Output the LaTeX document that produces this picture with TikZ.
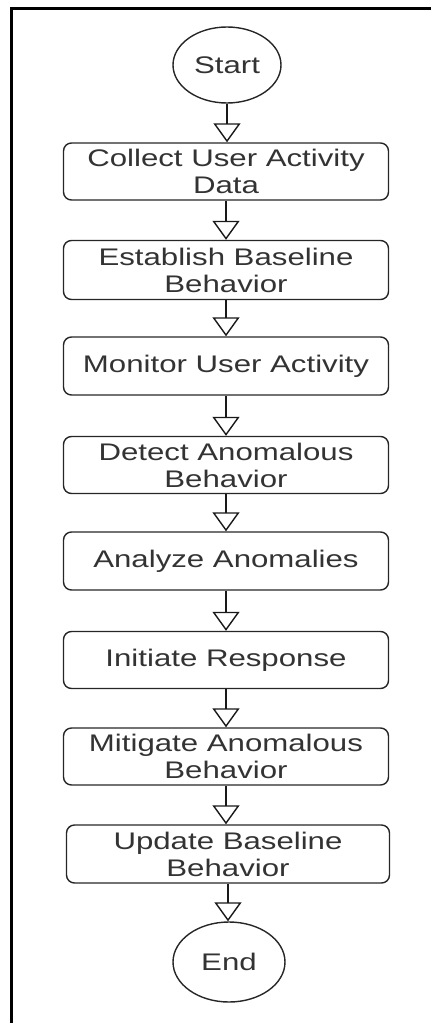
\documentclass[tikz,border=0pt]{standalone}
\usepackage{fontspec}
\setmainfont{Liberation Sans}[FakeStretch=1.3]
\usetikzlibrary{shapes.geometric,arrows.meta}
\definecolor{txt}{HTML}{333333}
\begin{document}
\begin{tikzpicture}[x=1pt,y=-1pt,
  stepbox/.style={draw=black!85, line width=1.4pt, rounded corners=8pt,
    minimum width=325pt, minimum height=57pt, inner sep=0pt, align=center,
    font=\fontsize{24}{27}\selectfont, text=txt},
  term/.style={ellipse, draw=black!85, line width=1.4pt, minimum width=108pt,
    minimum height=76pt, inner sep=0pt, font=\fontsize{24}{27}\selectfont, text=txt},
  flow/.style={draw=black!90, line width=1.6pt,
    -{Triangle[fill=white, width=27pt, length=19pt, line width=1.4pt]}},
  frame/.style={draw=black, line width=3pt}]
\useasboundingbox (0,0) rectangle (431,1023);
\draw[frame] (11.5,1030) -- (11.5,8) -- (440,8);

\node[term] (start) at (227,65) {Start};
\node[stepbox] (b1) at (226,171.5) {Collect User Activity\\Data};
\node[stepbox, minimum height=59pt] (b2) at (226,270) {Establish Baseline\\Behavior};
\node[stepbox, minimum height=58pt] (b3) at (226,366) {Monitor User Activity};
\node[stepbox] (b4) at (226,465) {Detect Anomalous\\Behavior};
\node[stepbox, minimum height=58pt] (b5) at (226,561) {Analyze Anomalies};
\node[stepbox] (b6) at (226,660) {Initiate Response};
\node[stepbox] (b7) at (226,756.5) {Mitigate Anomalous\\Behavior};
\node[stepbox, minimum width=323pt, minimum height=58pt] (b8) at (228,854) {Update Baseline\\Behavior};
\node[term, minimum width=112pt, minimum height=80pt] (end) at (229,962) {End};

\draw[flow] (start.south) -- (start.south |- b1.north);
\draw[flow] (b1.south) -- (b1.south |- b2.north);
\draw[flow] (b2.south) -- (b2.south |- b3.north);
\draw[flow] (b3.south) -- (b3.south |- b4.north);
\draw[flow] (b4.south) -- (b4.south |- b5.north);
\draw[flow] (b5.south) -- (b5.south |- b6.north);
\draw[flow] (b6.south) -- (b6.south |- b7.north);
\draw[flow] (b7.south) -- (b7.south |- b8.north);
\draw[flow] (b8.south) -- (b8.south |- end.north);
\end{tikzpicture}
\end{document}
